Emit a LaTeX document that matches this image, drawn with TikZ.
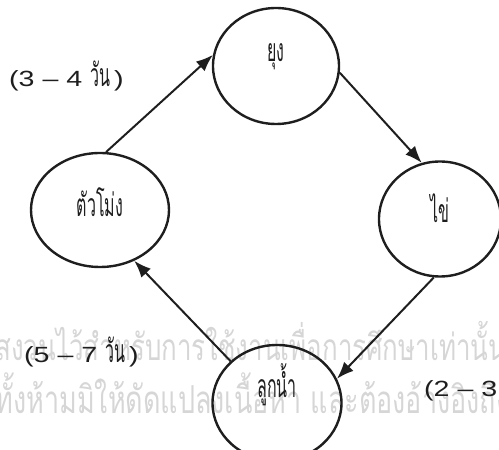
\documentclass[tikz,border=0pt]{standalone}
\usepackage{fontspec}
\newfontfamily\thaifont[Script=Thai, FakeStretch=0.5]{Loma}
\newfontfamily\wmfont[Script=Thai, FakeStretch=0.7]{Loma}
\newfontfamily\latinfont[FakeStretch=1.3]{Liberation Sans}
\usepackage{xcolor}
\usetikzlibrary{shapes.geometric,arrows.meta,positioning}
\definecolor{LN}{HTML}{1E1E1E}
\definecolor{WM}{HTML}{D6D6D6}
\newcommand\thaiword[1]{{\thaifont\fontsize{32}{34}\selectfont #1}}

\begin{document}
\begin{tikzpicture}[x=1pt, y=1pt,
    stage/.style={ellipse, draw=LN, line width=2.4pt, inner sep=0pt},
    cyc/.style={draw=LN, line width=2pt, -{Latex[length=17pt,width=13pt]}},
    days/.style={font=\latinfont\fontsize{22}{24}\selectfont, text=LN, inner sep=0pt},
    wmark/.style={font=\wmfont\fontsize{37}{40}\selectfont, text=WM, anchor=west}]
    \useasboundingbox (0,0) rectangle (499,450);
    \clip (0,0) rectangle (499,450);

    \node[wmark] (wm1) at (-8,109) {สงวนไว้สำหรับการใช้งานเพื่อการศึกษาเท่านั้น};
    \node[wmark, font=\wmfont\fontsize{38.5}{40}\selectfont] (wm2) at (-8,57)
        {ทั้งห้ามมิให้ดัดแปลงเนื้อหา และต้องอ้างอิงถึง};

    \node[stage, minimum width=126pt, minimum height=116pt,
          label={[days, yshift=9pt]center:\thaiword{ยุง}}] (yung) at (276,384) {};
    \node[stage, minimum width=138pt, minimum height=114pt,
          label={[days, yshift=8pt]center:\thaiword{ตัวโม่ง}}] (tuamong) at (100,240) {};
    \node[stage, minimum width=122pt, minimum height=115pt,
          label={[days, yshift=11pt]center:\thaiword{ไข่}}] (khai) at (440,231) {};
    \node[stage, minimum width=129pt, minimum height=116pt,
          label={[days, yshift=18pt]center:\thaiword{ลูกน้ำ}}] (lukkam) at (277,47) {};

    \draw[cyc] (tuamong.84) -- (yung.170);
    \draw[cyc] (yung.354) -- (khai.108);
    \draw[cyc] (khai.264) -- (lukkam.22);
    \draw[cyc] (lukkam.138) -- (tuamong.304);

    \node[days, anchor=base west] (d34) at (9,363) {(3 – 4 \thaiword{วัน}\kern4pt)};
    \node[days, anchor=base west] (d57) at (24,87) {(5 – 7 \thaiword{วัน}\kern4pt)};
    \node[days, anchor=base west] (d23) at (424,53) {(2 – 3 \thaiword{วัน}\kern4pt)};
\end{tikzpicture}
\end{document}
